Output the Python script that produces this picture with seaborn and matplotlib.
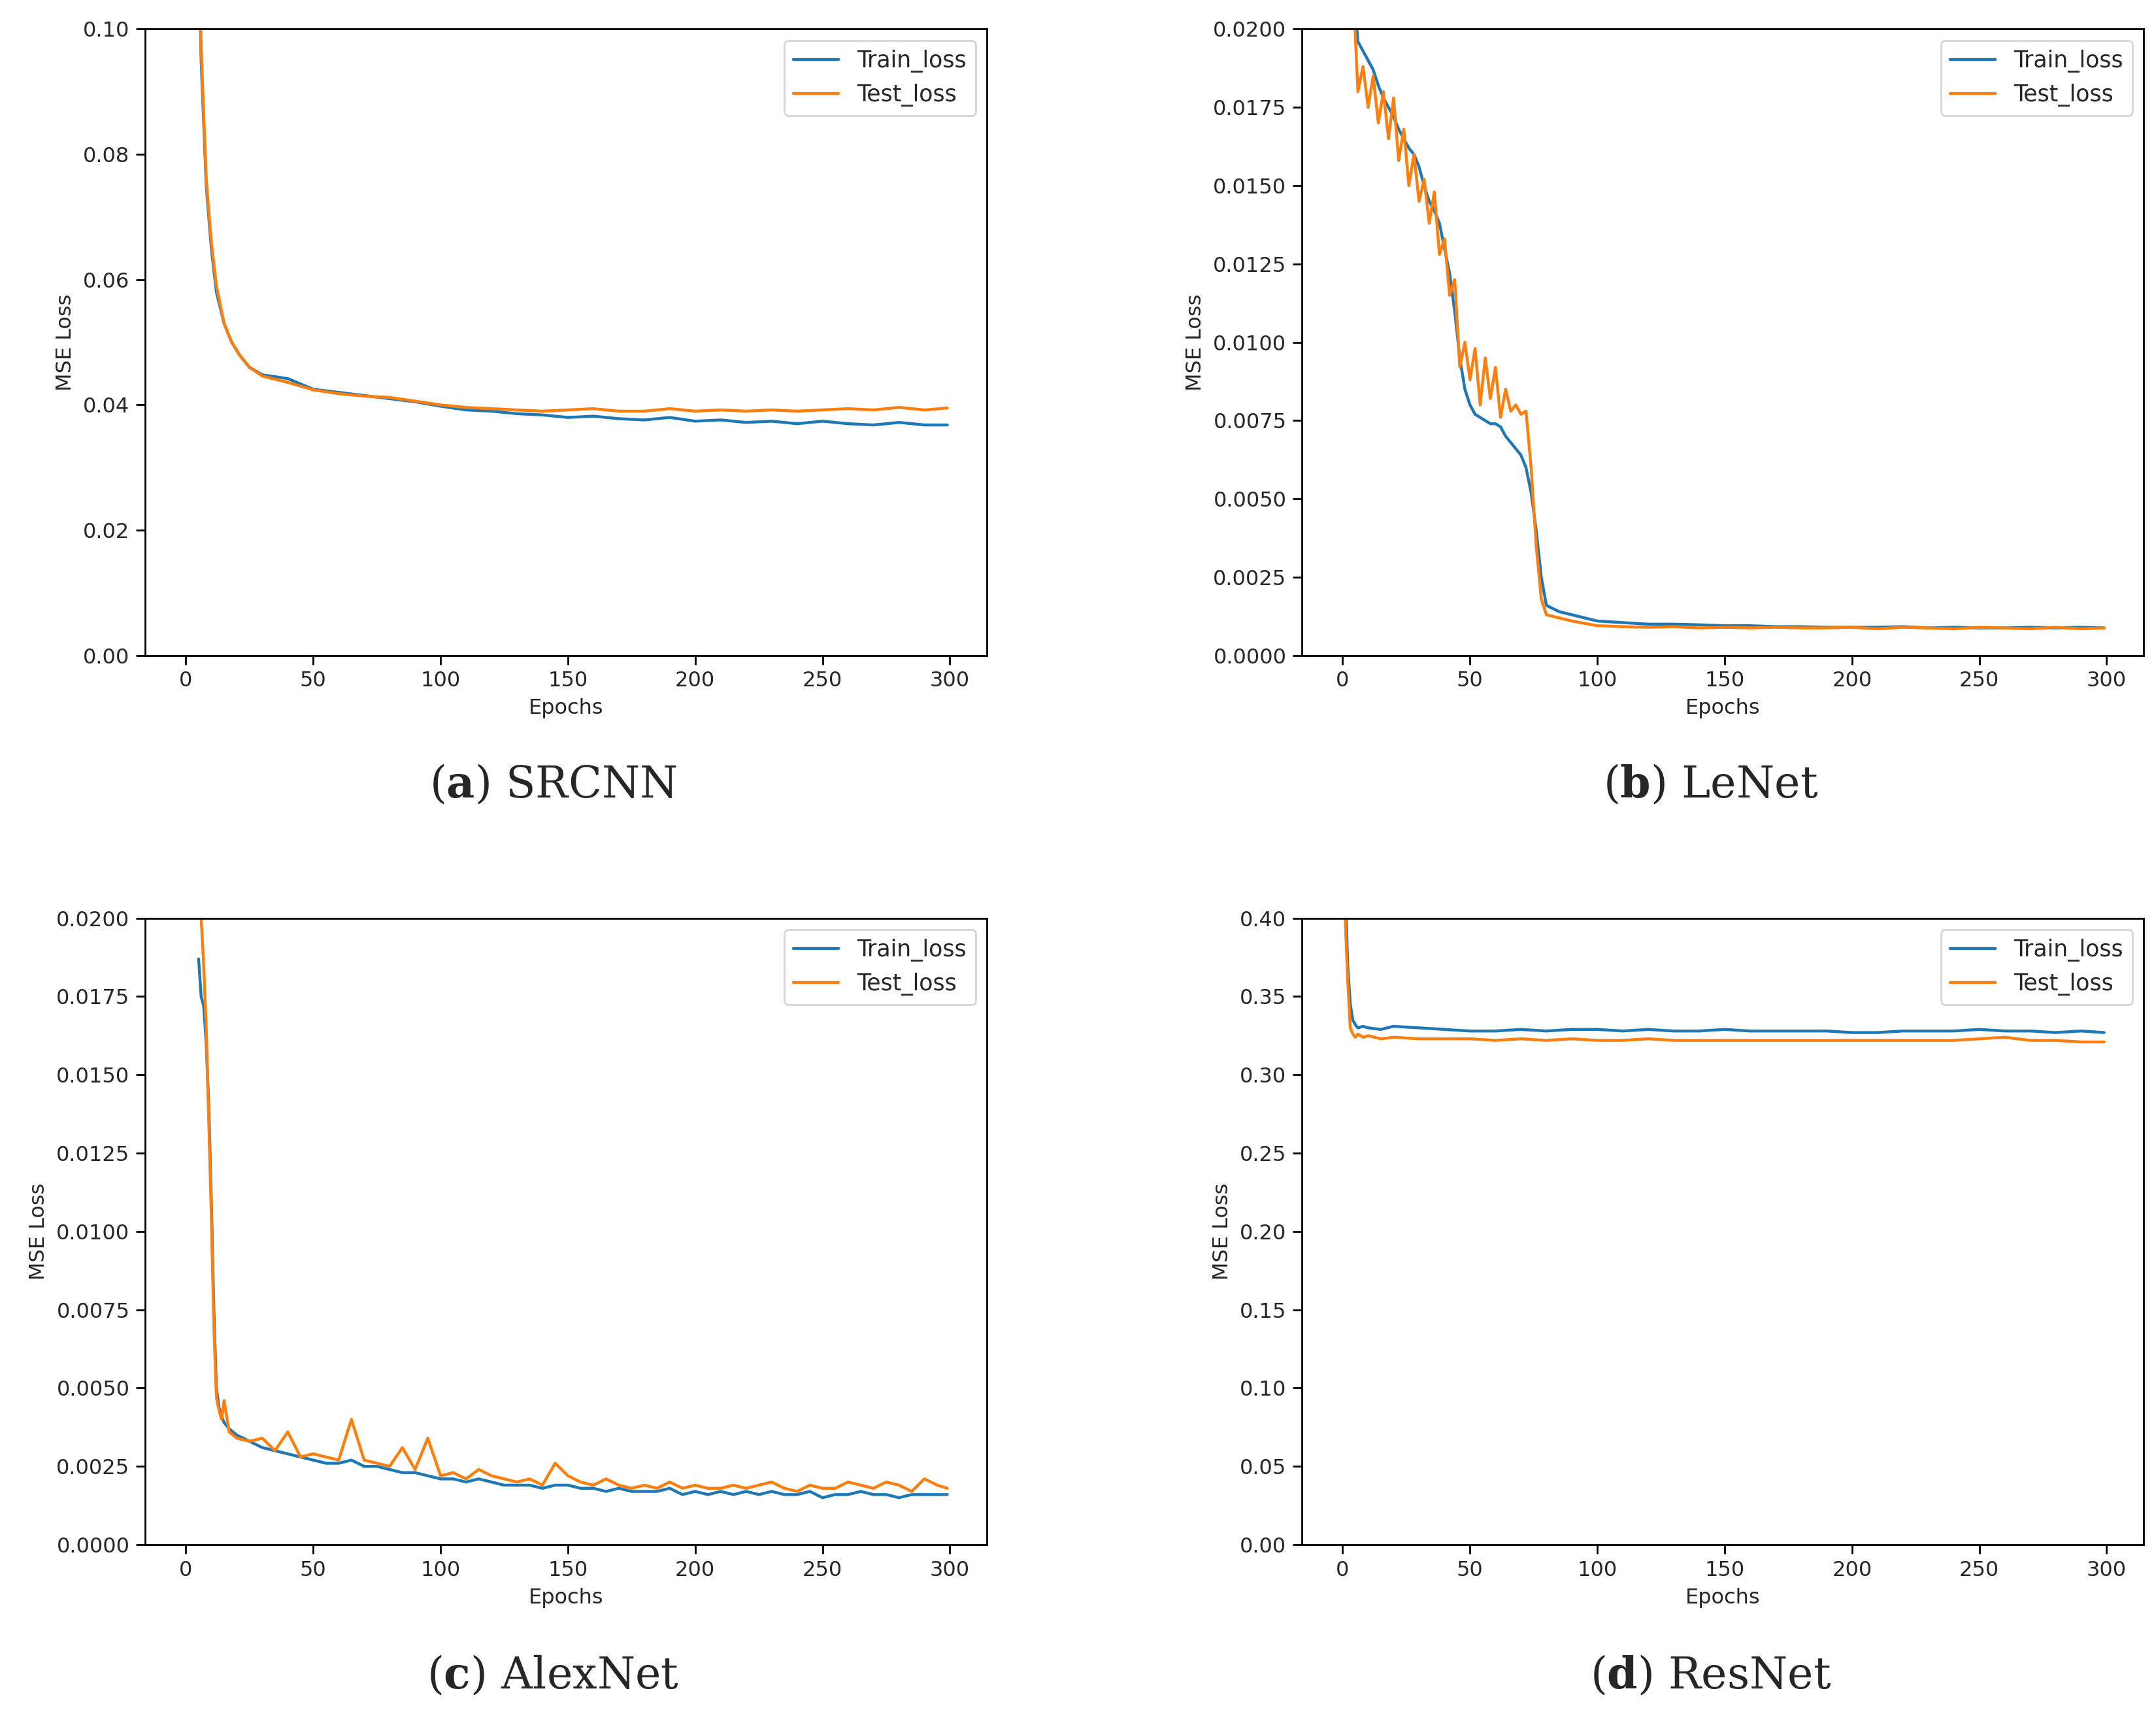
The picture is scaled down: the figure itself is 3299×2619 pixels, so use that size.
import matplotlib
matplotlib.use("Agg")
import matplotlib.pyplot as plt
import seaborn as sns
import pandas as pd
from matplotlib.ticker import FormatStrFormatter, MultipleLocator

# ---------------- data ----------------
ea = [0, 2, 4, 6, 8, 10, 12, 15, 18, 21, 25] + list(range(30, 300, 10)) + [299]
a_train = [0.30, 0.20, 0.13, 0.095, 0.075, 0.065, 0.058, 0.053, 0.050, 0.048, 0.046,
           0.0448, 0.0442, 0.0425, 0.0420, 0.0415, 0.0410, 0.0405, 0.0398, 0.0392, 0.0390,
           0.0386, 0.0384, 0.0380, 0.0382, 0.0378, 0.0376, 0.0380, 0.0374, 0.0376, 0.0372,
           0.0374, 0.0370, 0.0374, 0.0370, 0.0368, 0.0372, 0.0368, 0.0368]
a_test = [0.30, 0.21, 0.135, 0.097, 0.076, 0.066, 0.059, 0.053, 0.050, 0.048, 0.046,
          0.0446, 0.0436, 0.0424, 0.0418, 0.0414, 0.0412, 0.0406, 0.0400, 0.0396, 0.0394,
          0.0392, 0.0390, 0.0392, 0.0394, 0.0390, 0.0390, 0.0394, 0.0390, 0.0392, 0.0390,
          0.0392, 0.0390, 0.0392, 0.0394, 0.0392, 0.0396, 0.0392, 0.0395]

eb = [4] + list(range(6, 81, 2)) + [85, 90, 100] + list(range(110, 300, 10)) + [299]
b_train = [0.0215,
           0.0196, 0.0193, 0.0190, 0.0187, 0.0182, 0.0178, 0.0175, 0.0172, 0.0168, 0.0165,
           0.0162, 0.0160, 0.0156, 0.0150, 0.0145, 0.0142, 0.0138, 0.0130, 0.0122, 0.0110,
           0.0095, 0.0085, 0.0080, 0.0077, 0.0076, 0.0075, 0.0074, 0.0074, 0.0073, 0.0070,
           0.0068, 0.0066, 0.0064, 0.0060, 0.0052, 0.0040, 0.0025, 0.0016,
           0.0014, 0.0013, 0.0011,
           0.00105, 0.0010, 0.0010, 0.00098, 0.00095, 0.00095, 0.00092, 0.00092, 0.0009, 0.0009,
           0.0009, 0.00092, 0.00088, 0.0009, 0.00088, 0.00088, 0.0009, 0.00088, 0.0009,
           0.00088]
b_test = [0.0215,
          0.0180, 0.0188, 0.0175, 0.0185, 0.0170, 0.0180, 0.0165, 0.0178, 0.0158, 0.0168,
          0.0150, 0.0160, 0.0145, 0.0152, 0.0138, 0.0148, 0.0128, 0.0133, 0.0115, 0.0120,
          0.0092, 0.0100, 0.0088, 0.0098, 0.0080, 0.0095, 0.0082, 0.0092, 0.0076, 0.0085,
          0.0078, 0.0080, 0.0077, 0.0078, 0.0060, 0.0035, 0.0018, 0.0013,
          0.0012, 0.0011, 0.00095,
          0.00092, 0.0009, 0.00092, 0.00088, 0.0009, 0.00088, 0.0009, 0.00088, 0.00088, 0.0009,
          0.00085, 0.0009, 0.00088, 0.00085, 0.0009, 0.00088, 0.00085, 0.0009, 0.00085,
          0.00088]

ec = [5, 6, 7, 8, 9, 10, 11, 12, 13, 14, 15, 17] + list(range(20, 300, 5)) + [299]
c_train = [0.0187, 0.0175, 0.0172, 0.0160, 0.0140, 0.0110, 0.0075, 0.0050, 0.0044, 0.0041, 0.0039, 0.0037,
           0.0035, 0.0033, 0.0031, 0.0030, 0.0029, 0.0028, 0.0027, 0.0026, 0.0026, 0.0027,
           0.0025, 0.0025, 0.0024, 0.0023, 0.0023, 0.0022, 0.0021, 0.0021, 0.0020, 0.0021,
           0.0020, 0.0019, 0.0019, 0.0019, 0.0018, 0.0019, 0.0019, 0.0018, 0.0018, 0.0017,
           0.0018, 0.0017, 0.0017, 0.0017, 0.0018, 0.0016, 0.0017, 0.0016, 0.0017, 0.0016,
           0.0017, 0.0016, 0.0017, 0.0016, 0.0016, 0.0017, 0.0015, 0.0016, 0.0016, 0.0017,
           0.0016, 0.0016, 0.0015, 0.0016, 0.0016, 0.0016,
           0.0016]
c_test = [0.0205, 0.0200, 0.0185, 0.0165, 0.0135, 0.0105, 0.0070, 0.0047, 0.0043, 0.0040, 0.0046, 0.0036,
          0.0034, 0.0033, 0.0034, 0.0030, 0.0036, 0.0028, 0.0029, 0.0028, 0.0027, 0.0040,
          0.0027, 0.0026, 0.0025, 0.0031, 0.0024, 0.0034, 0.0022, 0.0023, 0.0021, 0.0024,
          0.0022, 0.0021, 0.0020, 0.0021, 0.0019, 0.0026, 0.0022, 0.0020, 0.0019, 0.0021,
          0.0019, 0.0018, 0.0019, 0.0018, 0.0020, 0.0018, 0.0019, 0.0018, 0.0018, 0.0019,
          0.0018, 0.0019, 0.0020, 0.0018, 0.0017, 0.0019, 0.0018, 0.0018, 0.0020, 0.0019,
          0.0018, 0.0020, 0.0019, 0.0017, 0.0021, 0.0019,
          0.0018]

ed = [0, 1, 2, 3, 4, 5, 6, 8, 10, 15] + list(range(20, 300, 10)) + [299]
d_train = [0.50, 0.42, 0.37, 0.345, 0.335, 0.332, 0.330, 0.331, 0.330, 0.329,
           0.331, 0.330, 0.329, 0.328, 0.328, 0.329, 0.328, 0.329, 0.329, 0.328,
           0.329, 0.328, 0.328, 0.329, 0.328, 0.328, 0.328, 0.328, 0.327, 0.327,
           0.328, 0.328, 0.328, 0.329, 0.328, 0.328, 0.327, 0.328,
           0.327]
d_test = [0.45, 0.40, 0.36, 0.33, 0.326, 0.324, 0.326, 0.324, 0.325, 0.323,
          0.324, 0.323, 0.323, 0.323, 0.322, 0.323, 0.322, 0.323, 0.322, 0.322,
          0.323, 0.322, 0.322, 0.322, 0.322, 0.322, 0.322, 0.322, 0.322, 0.322,
          0.322, 0.322, 0.322, 0.323, 0.324, 0.322, 0.322, 0.321,
          0.321]

panels = [
    ("a", "SRCNN", ea, a_train, a_test, 0.10, 0.02, "%.2f"),
    ("b", "LeNet", eb, b_train, b_test, 0.02, 0.0025, "%.4f"),
    ("c", "AlexNet", ec, c_train, c_test, 0.02, 0.0025, "%.4f"),
    ("d", "ResNet", ed, d_train, d_test, 0.40, 0.05, "%.2f"),
]

# ---------------- plot ----------------
sns.set_style("ticks")
plt.rcParams["font.family"] = ["DejaVu Sans"]
plt.rcParams["mathtext.fontset"] = "dejavuserif"

fig = plt.figure(figsize=(16.495, 13.095), dpi=200)
W, H = 1560, 1238
boxes = [(105, 21), (942, 21), (105, 664), (942, 664)]
caps = [(400, 568), (1238, 568), (400, 1212), (1238, 1212)]
fs = 11.5
for (letter, name, ep, tr, te, ymax, step, fmt), (x0, y0), (cx, cy) in zip(panels, boxes, caps):
    ax = fig.add_axes([x0 / W, 1 - (y0 + 453) / H, 609 / W, 453 / H])
    df = pd.DataFrame({"Epochs": ep + ep, "loss": tr + te,
                       "kind": ["Train_loss"] * len(ep) + ["Test_loss"] * len(ep)})
    sns.lineplot(data=df, x="Epochs", y="loss", hue="kind",
                 palette=["#1f77b4", "#ff7f0e"], linewidth=1.6, ax=ax)
    ax.set_xlim(-16, 314.5)
    ax.set_ylim(0, ymax)
    ax.set_xticks(range(0, 301, 50))
    ax.yaxis.set_major_locator(MultipleLocator(step))
    ax.yaxis.set_major_formatter(FormatStrFormatter(fmt))
    ax.tick_params(labelsize=fs, length=5, width=1, color="black")
    for s in ax.spines.values():
        s.set_color("black")
        s.set_linewidth(1)
    ax.set_xlabel("Epochs", fontsize=fs)
    ax.set_ylabel("MSE Loss", fontsize=fs)
    ax.legend(title=None, loc="upper right", fontsize=12.5, frameon=True)
    fig.text(cx / W, 1 - cy / H, r"($\mathbf{%s}$) %s" % (letter, name),
             ha="center", va="center", fontsize=24, family="DejaVu Serif")

fig.savefig("out.png", dpi=200)
